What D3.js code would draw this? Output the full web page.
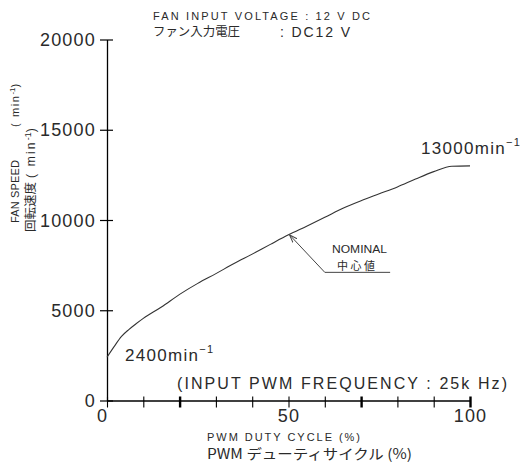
<!DOCTYPE html>
<html>
<head>
<meta charset="utf-8">
<script src="https://cdn.jsdelivr.net/npm/d3@7"></script>
<style>
  html, body { margin: 0; padding: 0; background: #fff; }
  svg text { font-family: "Liberation Sans", "Noto Sans CJK JP", sans-serif; fill: #2a2a2a; }
  .jp { font-family: "Noto Sans CJK JP", sans-serif; }
</style>
</head>
<body>
<svg id="chart" width="527" height="466"></svg>
<script>
// ---- data ----
const dutyCycle = [0, 2, 4, 6, 8, 10, 15, 20, 25, 30, 35, 40, 45, 50, 55, 60, 65, 70, 75, 80, 85, 90, 95, 100];
const fanSpeed  = [2400, 3000, 3550, 3930, 4250, 4550, 5180, 5880, 6490, 7030, 7590, 8110, 8650, 9180, 9660, 10150, 10650, 11070, 11450, 11830, 12270, 12680, 12980, 13000];
const xTicks = [0, 10, 20, 30, 40, 50, 60, 70, 80, 90, 100];
const xTickLabels = ["0", "", "", "", "", "50", "", "", "", "", "100"];
const xThickTicks = [20, 70, 100];
const yTicks = [0, 5000, 10000, 15000, 20000];
const yTickLabels = ["0", "5000", "10000", "15000", "20000"];
const titleLine1 = "FAN INPUT VOLTAGE : 12 V DC";
const titleLine2a = "ファン入力電圧";
const titleLine2b = ": DC12 V";
const yTitleEn = "FAN SPEED";
const yTitleJp = "回転速度";
const xTitleEn = "PWM DUTY CYCLE (%)";
const xTitleJp = "PWM デューティサイクル (%)";
const freqNote = "(INPUT PWM FREQUENCY : 25k Hz)";
const maxLabel = "13000min";
const minLabel = "2400min";
const nominalEn = "NOMINAL";
const nominalJp = "中心値";
const nominalAt = [50, 9180];     // arrow tip (data space)
const nominalElbow = [60, 7100];
const nominalEnd = [78, 7100];

// ---- scales ----
const svg = d3.select("#chart");
const x = d3.scaleLinear().domain([0, 100]).range([107, 470]);
const y = d3.scaleLinear().domain([0, 20000]).range([400.5, 39.5]);

// ---- y axis ----
const gy = svg.append("g").attr("transform", `translate(${x(0)},0)`)
  .call(d3.axisLeft(y).tickValues(yTicks).tickSize(7).tickSizeOuter(0)
        .tickFormat((d, i) => yTickLabels[i]));
gy.select(".domain").attr("stroke", "#000").attr("stroke-width", 1.3);
gy.selectAll(".tick line").attr("x1", 6).attr("stroke", "#000").attr("stroke-width", 1.2);
gy.selectAll(".tick text").attr("x", -11).attr("dy", "0.34em")
  .style("font-size", "18px").style("letter-spacing", "1.2px").style("font-family", "Liberation Sans");

// ---- x axis ----
const gx = svg.append("g").attr("transform", `translate(0,${y(0)})`)
  .call(d3.axisBottom(x).tickValues(xTicks).tickSize(7).tickSizeOuter(0)
        .tickFormat((d, i) => xTickLabels[i]));
gx.select(".domain").attr("stroke", "#000").attr("stroke-width", 1.3);
gx.selectAll(".tick line").attr("y1", -4).attr("stroke", "#000")
  .attr("stroke-width", d => xThickTicks.includes(d) ? 2.4 : 1.1);
gx.selectAll(".tick text").attr("y", 21).attr("dy", 0)
  .attr("dx", d => d === 0 ? -5 : 0)
  .style("font-size", "18px").style("letter-spacing", "1.2px").style("font-family", "Liberation Sans");

// ---- curve ----
const pts = dutyCycle.map((d, i) => [d, fanSpeed[i]]);
svg.append("path").datum(pts)
  .attr("fill", "none").attr("stroke", "#333").attr("stroke-width", 1.1)
  .attr("d", d3.line().x(d => x(d[0])).y(d => y(d[1])).curve(d3.curveMonotoneX));

// ---- titles ----
svg.append("text").attr("x", 153).attr("y", 20).style("font-size", "11px")
  .attr("textLength", 217).attr("lengthAdjust", "spacing").text(titleLine1);
svg.append("text").attr("class", "jp").attr("x", 153).attr("y", 36).style("font-size", "12px")
  .attr("textLength", 87).attr("lengthAdjust", "spacingAndGlyphs").text(titleLine2a);
svg.append("text").attr("x", 280).attr("y", 37).style("font-size", "14px")
  .attr("textLength", 70).attr("lengthAdjust", "spacing").text(titleLine2b);

// y titles (rotated)
const yt1 = svg.append("text").attr("transform", "translate(19,223) rotate(-90)")
  .style("font-size", "11px");
yt1.append("tspan").attr("textLength", 63).attr("lengthAdjust", "spacing").text(yTitleEn);
yt1.append("tspan").attr("x", 96).style("letter-spacing", "1.6px").text("( min");
yt1.append("tspan").attr("dy", -4).style("font-size", "8px").text("-1");
yt1.append("tspan").attr("dy", 4).text(")");

const yt2 = svg.append("text").attr("transform", "translate(35,232) rotate(-90)")
  .style("font-size", "12px");
yt2.append("tspan").attr("class", "jp").attr("textLength", 50).attr("lengthAdjust", "spacingAndGlyphs").text(yTitleJp);
yt2.append("tspan").attr("x", 54).style("letter-spacing", "2.2px").text("( min");
yt2.append("tspan").attr("dy", -4).style("font-size", "9px").text("-1");
yt2.append("tspan").attr("dy", 4).text(")");

// x titles
svg.append("text").attr("x", 207).attr("y", 441).style("font-size", "11px")
  .attr("textLength", 153).attr("lengthAdjust", "spacing").text(xTitleEn);
svg.append("text").attr("class", "jp").attr("x", 207).attr("y", 459).style("font-size", "14px")
  .attr("textLength", 205).attr("lengthAdjust", "spacingAndGlyphs").text(xTitleJp);

// frequency note
svg.append("text").attr("x", 177).attr("y", 389).style("font-size", "16px")
  .attr("textLength", 330).attr("lengthAdjust", "spacing").text(freqNote);

// max / min labels
const mx = svg.append("text").attr("x", 421).attr("y", 154).style("font-size", "17px").style("letter-spacing", "1.3px");
mx.append("tspan").text(maxLabel);
mx.append("tspan").attr("dy", -8).style("font-size", "11px").text("−1");
const mn = svg.append("text").attr("x", 125).attr("y", 361).style("font-size", "17px").style("letter-spacing", "1.3px");
mn.append("tspan").text(minLabel);
mn.append("tspan").attr("dy", -8).style("font-size", "11px").text("−1");

// nominal annotation
const defs = svg.append("defs");
defs.append("marker").attr("id", "arr").attr("viewBox", "0 0 10 10")
  .attr("refX", 10).attr("refY", 5).attr("markerWidth", 8).attr("markerHeight", 8)
  .attr("orient", "auto-start-reverse")
  .append("path").attr("d", "M0,1.5 L10,5 L0,8.5").attr("fill", "none").attr("stroke", "#444").attr("stroke-width", 1.2);
svg.append("path")
  .attr("d", d3.line()([[x(nominalEnd[0]), y(nominalEnd[1])], [x(nominalElbow[0]), y(nominalElbow[1])], [x(nominalAt[0]) + 1, y(nominalAt[1])]]))
  .attr("fill", "none").attr("stroke", "#444").attr("stroke-width", 1)
  .attr("marker-end", "url(#arr)");
svg.append("text").attr("x", 332).attr("y", 253).style("font-size", "11px")
  .attr("textLength", 55).attr("lengthAdjust", "spacingAndGlyphs").text(nominalEn);
svg.append("text").attr("class", "jp").attr("x", 337).attr("y", 270).style("font-size", "11px")
  .attr("textLength", 38).attr("lengthAdjust", "spacing").text(nominalJp);
</script>
</body>
</html>
